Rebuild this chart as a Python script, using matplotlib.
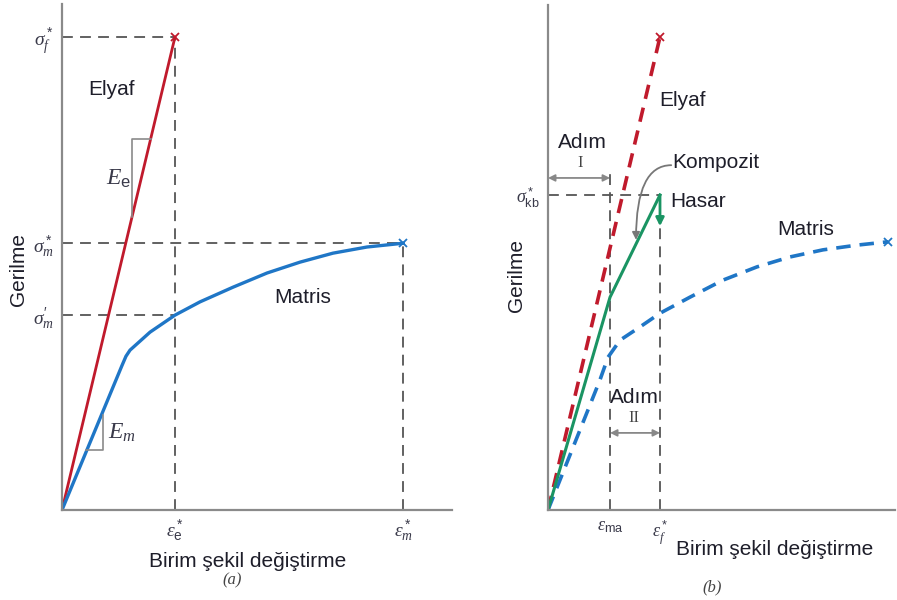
import numpy as np
import matplotlib.pyplot as plt

plt.rcParams['font.family'] = ['Liberation Sans', 'DejaVu Sans']
plt.rcParams['mathtext.fontset'] = 'custom'
plt.rcParams['mathtext.rm'] = 'Liberation Sans'
plt.rcParams['mathtext.it'] = 'Liberation Serif:italic'
plt.rcParams['mathtext.bf'] = 'Liberation Sans:bold'

# --- data (normalised strain / stress) ---
# panel (a)
fib_eps_a = [0.0, 1.0]
fib_sig_a = [0.0, 1.0]
mat_eps_a = [0.0, 0.53, 0.566, 0.602, 0.779, 1.0, 1.221, 1.513, 1.814, 2.106, 2.398, 2.699, 3.02]
mat_sig_a = [0.0, 0.305, 0.325, 0.338, 0.376, 0.412, 0.440, 0.471, 0.501, 0.524, 0.543, 0.556, 0.564]
eps_e_star = 1.0
eps_m_star = 3.02
sig_f_star = 1.0
sig_m_star = 0.564
sig_m_prime = 0.412

# panel (b)
fib_eps_b = [0.0, 1.0]
fib_sig_b = [0.0, 1.0]
mat_eps_b = [0.0, 0.464, 0.536, 0.643, 0.821, 1.0, 1.268, 1.5625, 1.866, 2.161, 2.455, 2.759, 3.036]
mat_sig_b = [0.0, 0.275, 0.323, 0.359, 0.387, 0.416, 0.450, 0.486, 0.514, 0.535, 0.550, 0.560, 0.567]
comp_eps = [0.0, 0.554, 1.0]
comp_sig = [0.0, 0.450, 0.666]
eps_ma = 0.554
eps_f_star = 1.0
sig_kb_star = 0.666

RED = '#c01a2c'
BLUE = '#1f76c6'
GREEN = '#1a9463'
GRAY = '#555555'
AXC = '#8a8a8a'
TXT = '#1e1e2a'

fig = plt.figure(figsize=(8.97, 6.0), dpi=100)

def setup(ax, xmax, ymax):
    ax.set_xlim(0, xmax)
    ax.set_ylim(0, ymax)
    for s in ['top', 'right']:
        ax.spines[s].set_visible(False)
    for s in ['left', 'bottom']:
        ax.spines[s].set_color(AXC)
        ax.spines[s].set_linewidth(1.6)
    ax.tick_params(length=0, labelsize=14, colors='#3a3a4a', pad=6)

dash = dict(color=GRAY, lw=1.3, ls=(0, (6, 4)))

# ---------------- panel (a) ----------------
ax = fig.add_axes([62/897, 90/600, 390/897, 506/600])
setup(ax, 390/113, 506/473)

ax.plot([0, eps_e_star], [sig_f_star, sig_f_star], **dash)
ax.plot([eps_e_star, eps_e_star], [0, sig_f_star], **dash)
ax.plot([0, eps_m_star], [sig_m_star, sig_m_star], **dash)
ax.plot([eps_m_star, eps_m_star], [0, sig_m_star], **dash)
ax.plot([0, eps_e_star], [sig_m_prime, sig_m_prime], **dash)

ax.plot(fib_eps_a, fib_sig_a, color=RED, lw=2.0, solid_capstyle='round')
ax.plot(mat_eps_a, mat_sig_a, color=BLUE, lw=2.4, solid_joinstyle='round')
ax.plot(fib_eps_a[-1], fib_sig_a[-1], 'x', color=RED, ms=6, mew=1.3)
ax.plot(mat_eps_a[-1], mat_sig_a[-1], 'x', color=BLUE, ms=6, mew=1.3)

# slope triangles
ax.plot([0.619, 0.619, 0.784], [0.619, 0.784, 0.784], color=AXC, lw=1.2)
ax.plot([0.215, 0.363, 0.363], [0.127, 0.127, 0.20], color=AXC, lw=1.2)
ax.text(0.50, 0.70, r'$E_{\mathrm{e}}$', fontsize=17, color='#3a3a4a', ha='center', va='center')
ax.text(0.53, 0.163, r'$E_m$', fontsize=17, color='#3a3a4a', ha='center', va='center')

ax.text(0.442, 0.888, 'Elyaf', fontsize=15, color=TXT, ha='center', va='center')
ax.text(2.13, 0.450, 'Matris', fontsize=15, color=TXT, ha='center', va='center')

ax.set_xticks([eps_e_star, eps_m_star],
              [r'$\epsilon^*_{\mathrm{e}}$', r'$\epsilon^*_m$'])
ax.set_yticks([sig_m_prime, sig_m_star, sig_f_star],
              [r'$\sigma^{\prime}_m$', r'$\sigma^*_m$', r'$\sigma^*_f$'])
ax.set_xlabel('Birim şekil değiştirme', fontsize=15, color=TXT)
ax.xaxis.set_label_coords((248 - 62) / 390, -(552 - 510) / 506)
ax.set_ylabel('Gerilme', fontsize=15, color=TXT)
ax.yaxis.set_label_coords(-(62 - 28) / 390, (510 - 270) / 506)
ax.text((232 - 62) / 390, -(580 - 510) / 506, '(a)', transform=ax.transAxes,
        fontsize=12, style='italic', family='Liberation Serif', color='#444',
        ha='center', va='center')

# ---------------- panel (b) ----------------
bx = fig.add_axes([548/897, 90/600, 347/897, 505/600])
setup(bx, 347/112, 505/473)

bx.plot([0, eps_f_star], [sig_kb_star, sig_kb_star], **dash)
bx.plot([eps_ma, eps_ma], [0, 0.72], **dash)
bx.plot([eps_f_star, eps_f_star], [0, sig_kb_star], **dash)

bx.plot(fib_eps_b, fib_sig_b, color=RED, lw=2.6, ls=(0, (4, 2.5)))
bx.plot(mat_eps_b, mat_sig_b, color=BLUE, lw=2.6, ls=(0, (4, 2.5)))
bx.plot(fib_eps_b[-1], fib_sig_b[-1], 'x', color=RED, ms=6, mew=1.3)
bx.plot(mat_eps_b[-1], mat_sig_b[-1], 'x', color=BLUE, ms=6, mew=1.3)
bx.plot(comp_eps, comp_sig, color=GREEN, lw=2.2)
bx.annotate('', xy=(comp_eps[-1], 0.60), xytext=(comp_eps[-1], comp_sig[-1]),
            arrowprops=dict(arrowstyle='-|>', color=GREEN, lw=2.0, mutation_scale=12,
                            shrinkA=0, shrinkB=0))

# step arrows
arr = dict(arrowstyle='<|-|>', color='#888888', lw=1.3, mutation_scale=10, shrinkA=0, shrinkB=0)
bx.annotate('', xy=(0, 0.702), xytext=(eps_ma, 0.702), arrowprops=arr)
bx.annotate('', xy=(eps_ma, 0.163), xytext=(eps_f_star, 0.163), arrowprops=arr)
bx.text(0.304, 0.778, 'Adım', fontsize=15, color=TXT, ha='center', va='center')
bx.text(0.286, 0.734, 'I', fontsize=12, family='Liberation Serif', color='#444', ha='center', va='center')
bx.text(0.768, 0.237, 'Adım', fontsize=15, color=TXT, ha='center', va='center')
bx.text(0.768, 0.195, 'II', fontsize=12, family='Liberation Serif', color='#444', ha='center', va='center')

bx.annotate('', xy=(0.786, 0.571), xytext=(1.10, 0.729),
            arrowprops=dict(arrowstyle='-|>', color='#777777', lw=1.3, mutation_scale=11,
                            connectionstyle='angle3,angleA=180,angleB=90',
                            shrinkA=0, shrinkB=0))
bx.text(1.11, 0.734, 'Kompozit', fontsize=15, color=TXT, ha='left', va='center')
bx.text(1.09, 0.653, 'Hasar', fontsize=15, color=TXT, ha='left', va='center')
bx.text(0.99, 0.865, 'Elyaf', fontsize=15, color=TXT, ha='left', va='center')
bx.text(2.30, 0.592, 'Matris', fontsize=15, color=TXT, ha='center', va='center')

bx.set_xticks([eps_ma, eps_f_star],
              [r'$\epsilon_{\mathrm{ma}}$', r'$\epsilon^*_f$'])
bx.set_yticks([sig_kb_star], [r'$\sigma^*_{\mathrm{kb}}$'])
bx.tick_params(labelsize=13)
bx.set_xlabel('Birim şekil değiştirme', fontsize=15, color=TXT)
bx.xaxis.set_label_coords((775 - 548) / 347, -(540 - 510) / 505)
bx.set_ylabel('Gerilme', fontsize=15, color=TXT)
bx.yaxis.set_label_coords(-(548 - 526) / 347, (510 - 275) / 505)
bx.text((712 - 548) / 347, -(587 - 510) / 505, '(b)', transform=bx.transAxes,
        fontsize=12, style='italic', family='Liberation Serif', color='#444',
        ha='center', va='center')

fig.savefig('out.png', dpi=100)
